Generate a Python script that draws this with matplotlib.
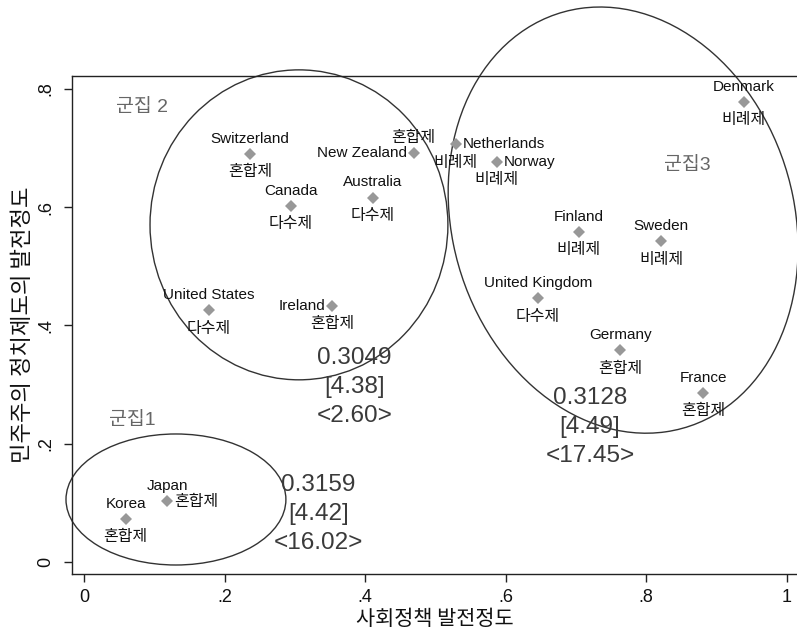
import matplotlib
matplotlib.use("Agg")
import matplotlib.pyplot as plt
from matplotlib.patches import Ellipse

plt.rcParams['font.family'] = ['Liberation Sans', 'Noto Sans CJK KR', 'DejaVu Sans']

# Countries: social-policy development (x) vs. democratic-institution development (y)
countries = ["Denmark", "Switzerland", "Canada", "United States", "New Zealand",
             "Australia", "Ireland", "Netherlands", "Norway", "United Kingdom",
             "Finland", "Sweden", "Germany", "France", "Japan", "Korea"]
social_policy = [0.939, 0.236, 0.294, 0.177, 0.469, 0.411, 0.353, 0.529,
                 0.587, 0.646, 0.704, 0.821, 0.763, 0.881, 0.118, 0.059]
democracy = [0.778, 0.690, 0.602, 0.426, 0.691, 0.616, 0.433, 0.706,
             0.677, 0.446, 0.558, 0.542, 0.358, 0.286, 0.103, 0.073]
electoral_system = ["비례제", "혼합제", "다수제", "다수제", "혼합제",
                    "다수제", "혼합제", "비례제", "비례제", "다수제",
                    "비례제", "비례제", "혼합제", "혼합제", "혼합제", "혼합제"]

# Cluster summaries
cluster_names = ["군집1", "군집 2", "군집3"]
cluster_stats = ["0.3159\n[4.42]\n<16.02>", "0.3049\n[4.38]\n<2.60>", "0.3128\n[4.49]\n<17.45>"]

x_ticks = [0, 0.2, 0.4, 0.6, 0.8, 1.0]
x_tick_labels = ["0", ".2", ".4", ".6", ".8", "1"]
y_ticks = [0, 0.2, 0.4, 0.6, 0.8]
y_tick_labels = ["0", ".2", ".4", ".6", ".8"]

# --- layout -------------------------------------------------------------
# label placement for the country name / electoral system around each marker
name_side = {"New Zealand": "left", "Ireland": "left",
             "Netherlands": "right", "Norway": "right"}
system_side = {"New Zealand": "above", "Japan": "right"}

# cluster ellipses: (center x, center y, width, height, angle)
ellipses = [(0.1305, 0.1057, 0.313, 0.2215, 0.0),
            (0.3056, 0.570, 0.424, 0.524, 0.0),
            (0.767, 0.578, 0.490, 0.726, 9.6)]
cluster_name_xy = [(0.068, 0.240), (0.082, 0.768), (0.858, 0.670)]
cluster_stat_xy = [(0.333, 0.081), (0.385, 0.296), (0.720, 0.228)]

offsets = {"above": ((0, 11), "center", "center"),
           "below": ((0, -13), "center", "center"),
           "left": ((-5, 0), "right", "center"),
           "right": ((5, 0), "left", "center")}

fig = plt.figure(figsize=(7.97, 6.34), dpi=100)
ax = fig.add_axes([0.0903, 0.0946, 0.9097, 0.7855])

ax.set_xlim(-0.0175, 1.0145)
ax.set_ylim(-0.0203, 0.8216)

ax.plot(social_policy, democracy, linestyle="none", marker="D",
        markersize=6.6, color="#989898", markeredgewidth=0, zorder=3)

for name, xv, yv, sysname in zip(countries, social_policy, democracy, electoral_system):
    off, ha, va = offsets[name_side.get(name, "above")]
    ax.annotate(name, (xv, yv), xytext=off, textcoords="offset points",
                ha=ha, va=va, fontsize=11, color="#111111")
    off, ha, va = offsets[system_side.get(name, "below")]
    ax.annotate(sysname, (xv, yv), xytext=off, textcoords="offset points",
                ha=ha, va=va, fontsize=11.5, color="#111111")

for (cx, cy, w, h, ang) in ellipses:
    ax.add_patch(Ellipse((cx, cy), w, h, angle=ang, fill=False,
                         edgecolor="#333333", linewidth=1.0, clip_on=False, zorder=2))

for label, (tx, ty) in zip(cluster_names, cluster_name_xy):
    ax.text(tx, ty, label, ha="center", va="center", fontsize=14, color="#666666")

for label, (tx, ty) in zip(cluster_stats, cluster_stat_xy):
    ax.text(tx, ty, label, ha="center", va="center", fontsize=17.5,
            color="#3a3a3a", linespacing=1.42)

ax.set_xticks(x_ticks)
ax.set_xticklabels(x_tick_labels)
ax.set_yticks(y_ticks)
ax.set_yticklabels(y_tick_labels, rotation=90, va="center")
ax.tick_params(direction="out", length=6, width=1, color="#222222",
               labelsize=13, labelcolor="#111111")
ax.tick_params(axis="x", pad=5)
ax.tick_params(axis="y", pad=7)

for side in ["left", "bottom", "top"]:
    ax.spines[side].set_linewidth(1.0)
    ax.spines[side].set_color("#222222")
ax.spines["right"].set_visible(False)

ax.set_xlabel("사회정책 발전정도", fontsize=15, color="#111111", labelpad=1,
              family=["Noto Sans CJK KR"])
ax.set_ylabel("민주주의 정치제도의 발전정도", fontsize=16, color="#111111", labelpad=2,
              family=["Noto Sans CJK KR"])

fig.savefig("out.png", dpi=100, facecolor="white")
